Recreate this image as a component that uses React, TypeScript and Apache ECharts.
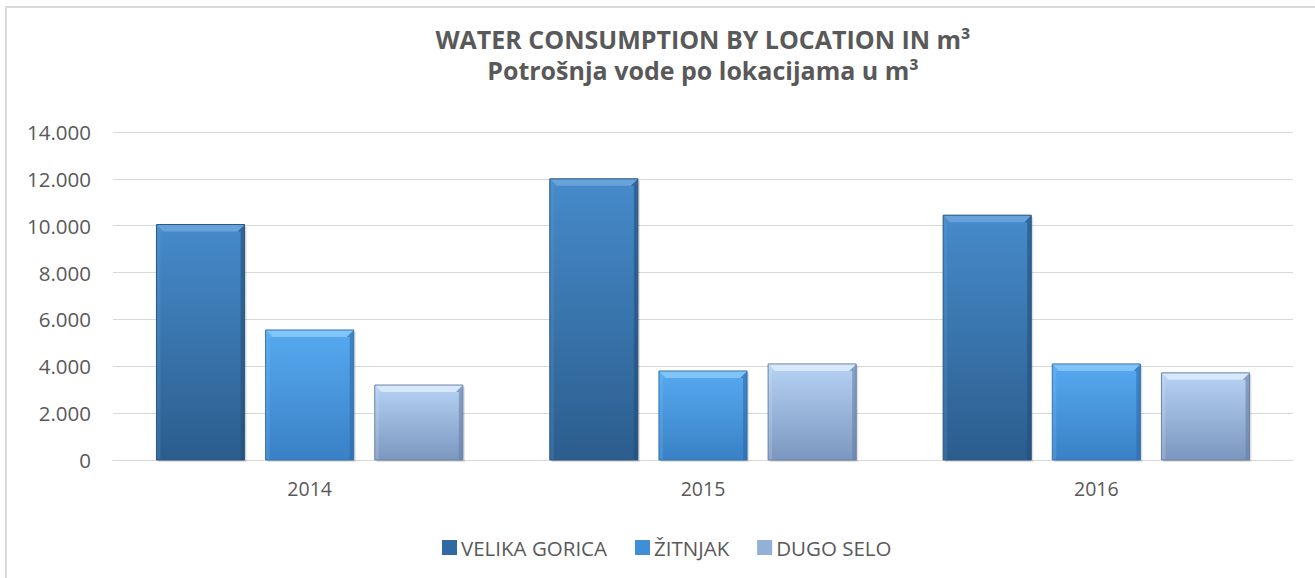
import React, { useEffect, useRef } from "react";
import * as echarts from "echarts";

const years = ["2014", "2015", "2016"];
const seriesNames = ["VELIKA GORICA", "ŽITNJAK", "DUGO SELO"];
const velikaGorica = [10050, 12000, 10450];
const zitnjak = [5550, 3800, 4100];
const dugoSelo = [3200, 4100, 3720];
const titleLine1 = "WATER CONSUMPTION BY LOCATION IN m³";
const titleLine2 = "Potrošnja vode po lokacijama u m³";

const FONT = "'Open Sans', 'Liberation Sans', sans-serif";

const palettes = [
  { top: "#468bcb", bottom: "#2b5d8d", light: "#6aa5dc", dark: "#234f7a", border: "#285683", icon: "#2f6aa3" },
  { top: "#56aaf0", bottom: "#3a80c6", light: "#86c6f8", dark: "#2f6ba6", border: "#3472ad", icon: "#3f8fd8" },
  { top: "#b6d2f4", bottom: "#7c97bf", light: "#dbeafc", dark: "#687fa5", border: "#6a82a8", icon: "#93b0d8" },
];

export default function App() {
  const ref = useRef<HTMLDivElement>(null);
  useEffect(() => {
    document.body.style.margin = "0";
    if (!ref.current) return;
    const chart = echarts.init(ref.current, null, { renderer: "svg" });
    const fmt = (v: number) => String(Math.round(v)).replace(/\B(?=(\d{3})+(?!\d))/g, ".");
    const datas = [velikaGorica, zitnjak, dugoSelo];
    const nSeries = seriesNames.length;

    const makeRender = (si: number) => (params: any, api: any) => {
      const cat = api.value(0);
      const val = api.value(1);
      const band = api.size([1, 0])[0];
      const bw = band * 0.224;
      const gap = band * 0.0535;
      const base = api.coord([cat, 0]);
      const topP = api.coord([cat, val]);
      const cx = base[0] + (si - (nSeries - 1) / 2) * (bw + gap);
      const x = cx - bw / 2;
      const y = topP[1];
      const h = base[1] - topP[1];
      const w = bw;
      const b = Math.min(7, h / 3);
      const s = 4;
      const p = palettes[si];
      const grad = new echarts.graphic.LinearGradient(0, 0, 0, 1, [
        { offset: 0, color: p.top },
        { offset: 1, color: p.bottom },
      ]);
      return {
        type: "group",
        children: [
          {
            type: "rect",
            shape: { x: x + 2, y: y + 2, width: w, height: h },
            style: { fill: "rgba(0,0,0,0.12)" },
          },
          {
            type: "rect",
            shape: { x, y, width: w, height: h },
            style: { fill: grad },
          },
          {
            type: "polygon",
            shape: { points: [[x + w, y], [x + w, y + h], [x + w - s, y + h], [x + w - s, y + b], [x + w - b, y + b]] },
            style: { fill: p.dark, opacity: 0.6 },
          },
          {
            type: "polygon",
            shape: { points: [[x, y], [x + b, y + b], [x + s, y + b], [x + s, y + h], [x, y + h]] },
            style: { fill: p.light, opacity: 0.2 },
          },
          {
            type: "polygon",
            shape: { points: [[x, y], [x + w, y], [x + w - b, y + b], [x + b, y + b]] },
            style: { fill: p.light, opacity: 0.9 },
          },
          {
            type: "rect",
            shape: { x, y, width: w, height: h },
            style: { fill: "none", stroke: p.border, lineWidth: 1 },
          },
        ],
      };
    };

    chart.setOption({
      animation: false,
      backgroundColor: "#ffffff",
      graphic: [
        {
          type: "rect",
          shape: { x: 6, y: 7, width: 1330, height: 600 },
          style: { fill: "none", stroke: "#d9d9d9", lineWidth: 2 },
          silent: true,
          z: -10,
        },
        {
          type: "text",
          x: 703,
          y: 39,
          style: {
            text: titleLine1,
            fontFamily: FONT,
            fontWeight: "bold",
            fontSize: 25,
            fill: "#595959",
            align: "center",
            verticalAlign: "middle",
          },
        },
        {
          type: "text",
          x: 703,
          y: 70,
          style: {
            text: titleLine2,
            fontFamily: FONT,
            fontWeight: "bold",
            fontSize: 25,
            fill: "#595959",
            align: "center",
            verticalAlign: "middle",
          },
        },
      ],
      legend: {
        bottom: 15,
        left: 437,
        itemWidth: 15,
        itemHeight: 15,
        itemGap: 28,
        icon: "rect",
        textStyle: { fontFamily: FONT, fontSize: 20.5, color: "#595959", padding: [0, 0, 0, -1] },
        data: seriesNames,
      },
      grid: { left: 113, right: 22, top: 132, bottom: 118, containLabel: false },
      xAxis: {
        type: "category",
        data: years,
        axisLine: { lineStyle: { color: "#d9d9d9", width: 1 } },
        axisTick: { show: false },
        axisLabel: { fontFamily: FONT, fontSize: 19.5, color: "#595959", margin: 18 },
      },
      yAxis: {
        type: "value",
        min: 0,
        max: 14000,
        interval: 2000,
        axisLine: { show: false },
        axisTick: { show: false },
        splitLine: { lineStyle: { color: "#d9d9d9", width: 1 } },
        axisLabel: {
          fontFamily: FONT,
          fontSize: 20.5,
          color: "#595959",
          margin: 22,
          formatter: fmt,
        },
      },
      series: seriesNames.map((name, i) => ({
        name,
        type: "custom",
        renderItem: makeRender(i),
        encode: { x: 0, y: 1 },
        itemStyle: { color: palettes[i].icon },
        data: datas[i].map((v, ci) => [ci, v]),
      })),
    });
    return () => chart.dispose();
  }, []);
  return <div ref={ref} style={{ width: 1315, height: 578 }} />;
}
